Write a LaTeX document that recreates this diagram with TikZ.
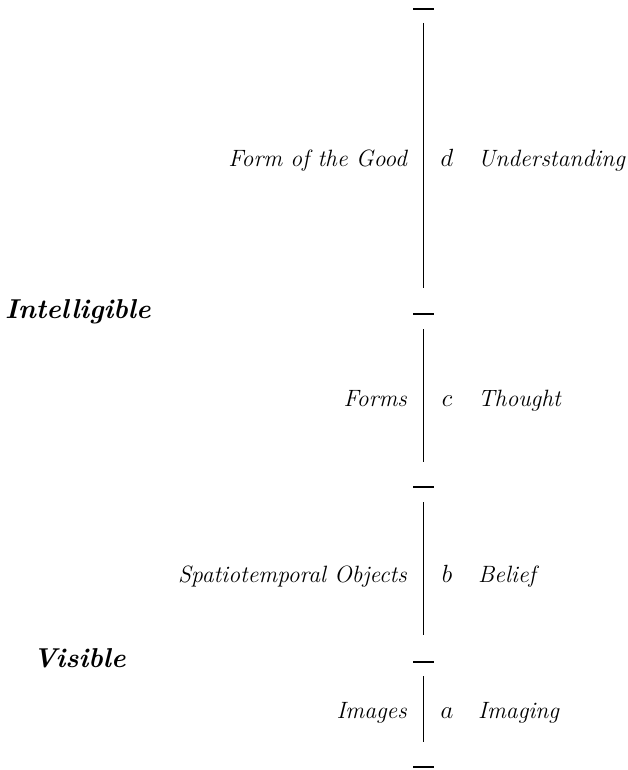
\documentclass[tikz,border=0pt]{standalone}
\begin{document}
\begin{tikzpicture}[x=1pt,y=-1pt,
  lbl/.style={inner sep=0pt,font=\fontsize{23.6}{28}\selectfont\itshape},
  ltr/.style={inner sep=0pt,font=\fontsize{29}{32}\selectfont},
  realm/.style={inner sep=0pt,font=\fontsize{27.3}{30}\selectfont\bfseries\itshape},
  seg/.style={line width=1pt},
  tick/.style={line width=1.8pt}]
\useasboundingbox (0,0) rectangle (627,770);
% ticks
\foreach \n/\y in {t0/9,t1/314,t2/487,t3/662,t4/767}{
  \coordinate (\n l) at (413,\y);
  \coordinate (\n r) at (434,\y);
  \draw[tick] (\n l) -- (\n r);
}
% segments
\foreach \n/\ya/\yb in {sd/23/288,sc/329/462,sb/502/635,sa/676/742}{
  \coordinate (\n top) at (423,\ya);
  \coordinate (\n bot) at (423,\yb);
  \draw[seg] (\n top) -- (\n bot);
}
% left labels
\node[lbl,anchor=base east] (good) at (407,167) {Form of the Good};
\node[lbl,anchor=base east] (forms) at (407,406) {Forms};
\node[lbl,anchor=base east] (spat) at (407,582) {Spatiotemporal Objects};
\node[lbl,anchor=base east] (imgs) at (407,718) {Images};
% letters
\node[ltr,anchor=base] (d) at (447,167) {$d$};
\node[ltr,anchor=base] (c) at (447,406) {$c$};
\node[ltr,anchor=base] (b) at (447,582) {$b$};
\node[ltr,anchor=base] (a) at (447,718) {$a$};
% right labels
\node[lbl,anchor=base west] (und) at (478,167) {Understanding};
\node[lbl,anchor=base west] (tho) at (478,406) {Thought};
\node[lbl,anchor=base west] (bel) at (478,582) {Belief};
\node[lbl,anchor=base west] (ima) at (478,718) {Imaging};
% realms
\node[realm,anchor=base west] (intel) at (5,318) {Intelligible};
\node[realm,anchor=base west] (vis) at (33,667) {Visible};
\end{tikzpicture}
\end{document}
